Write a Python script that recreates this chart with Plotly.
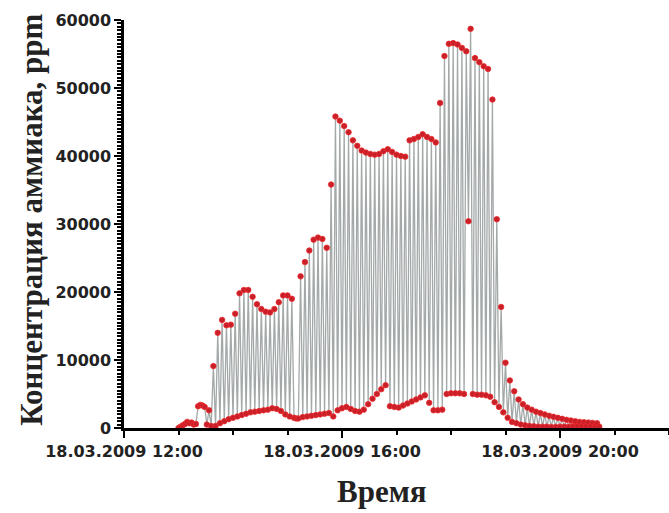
import pandas as pd
import plotly.graph_objects as go

# Ammonia concentration log, 18.03.2009, one reading every 144 s from 13:00.
start_time = "2009-03-18 13:00"
sample_step = "144s"

# Readings before the regular sample / background switching began
pre_ppm = [0, 200, 400, 600, 900, 700, 800, 500, 600, 3200, 3400, 3300, 3100, 500, 2600, 300]

# Sample-gas readings (every second reading after the start-up phase)
peak_ppm = [
    9100, 14000, 15900, 15100, 15200, 16800, 19800, 20300, 20300, 19300,
    18200, 17500, 17100, 17000, 17500, 18500, 19500, 19500, 19000, 1400,
    22300, 24400, 26100, 27700, 28000, 27800, 26500, 35800, 45800, 45200,
    44400, 43500, 42300, 41500, 40800, 40500, 40300, 40200, 40300, 40700,
    41000, 40600, 40200, 40000, 39900, 42300, 42500, 42800, 43200, 42800,
    42500, 42000, 47800, 54700, 56500, 56600, 56400, 55900, 55400, 58700,
    54400, 53800, 53200, 52800, 48300, 30700, 17800, 9600, 7000, 5400,
    4200, 3500, 3000, 2700, 2400, 2200, 2000, 1800, 1650, 1500,
    1350, 1200, 1100, 1000, 900, 850, 800, 750, 700,
]

# Background readings between the sample-gas readings
base_ppm = [
    300, 700, 1000, 1300, 1500, 1700, 1900, 2100, 2300, 2400,
    2500, 2600, 2700, 2900, 2800, 2500, 2000, 1700, 1500, 1400,
    1600, 1700, 1800, 1900, 2000, 2100, 2200, 1700, 2600, 2900,
    3100, 2800, 2500, 2400, 2700, 3500, 4300, 5000, 5700, 6300,
    3200, 3100, 3000, 3300, 3600, 3900, 4200, 4500, 4800, 3700,
    2600, 2600, 2700, 5000, 5100, 5100, 5100, 5000, 30400, 5000,
    4900, 4900, 4800, 4600, 3800, 3100, 2300, 1500, 900, 700,
    500, 400, 300, 250, 200, 200, 200, 150, 150, 200,
    200, 200, 250, 300, 300, 300, 300, 250, 200,
]

ppm = list(pre_ppm)
for hi, lo in zip(peak_ppm, base_ppm):
    ppm.extend([hi, lo])
times = pd.date_range(start_time, periods=len(ppm), freq=sample_step)

fig = go.Figure()
fig.add_trace(go.Scatter(
    x=times, y=ppm, mode="lines+markers",
    line=dict(color="#a3a8a8", width=1.3),
    marker=dict(size=5.5, color="#c8202a", line=dict(color="#ee2a2a", width=0.8)),
    showlegend=False,
))

label_font = dict(family="DejaVu Sans", size=16, color="#222222", weight="bold")
title_font = dict(family="Liberation Serif", size=31, color="#222222", weight="bold")

fig.update_layout(
    width=669, height=513,
    margin=dict(l=124, r=0, t=20, b=85),
    paper_bgcolor="white", plot_bgcolor="white",
    xaxis=dict(
        type="date",
        range=["2009-03-18 12:00", "2009-03-18 22:00"],
        tick0="2009-03-18 12:00", dtick=4 * 3600 * 1000,
        tickformat="%d.%m.%Y %H:%M",
        ticks="outside", ticklen=7, tickwidth=2, tickcolor="black",
        showline=True, linecolor="black", linewidth=2.5,
        showgrid=False, zeroline=False,
        tickfont=label_font,
        minor=dict(dtick=3600 * 1000, ticks="outside", ticklen=4, tickwidth=2, tickcolor="black"),
    ),
    yaxis=dict(
        range=[0, 60000], tick0=0, dtick=10000, tickformat="d",
        ticks="outside", ticklen=7, tickwidth=2, tickcolor="black",
        showline=True, linecolor="black", linewidth=2.5,
        showgrid=False, zeroline=False,
        tickfont=label_font,
        minor=dict(dtick=500, ticks="outside", ticklen=4, tickwidth=1.5, tickcolor="black"),
    ),
    annotations=[
        dict(text="Концентрация аммиака, ppm", xref="paper", yref="paper",
             x=-0.169, y=0.51, textangle=-90, showarrow=False,
             xanchor="center", yanchor="middle", font=title_font),
        dict(text="Время", xref="paper", yref="paper",
             x=(382 - 124) / 545, y=-(492 - 428) / 408, showarrow=False,
             xanchor="center", yanchor="middle", font=title_font),
    ],
)

fig.write_html("out.html")
